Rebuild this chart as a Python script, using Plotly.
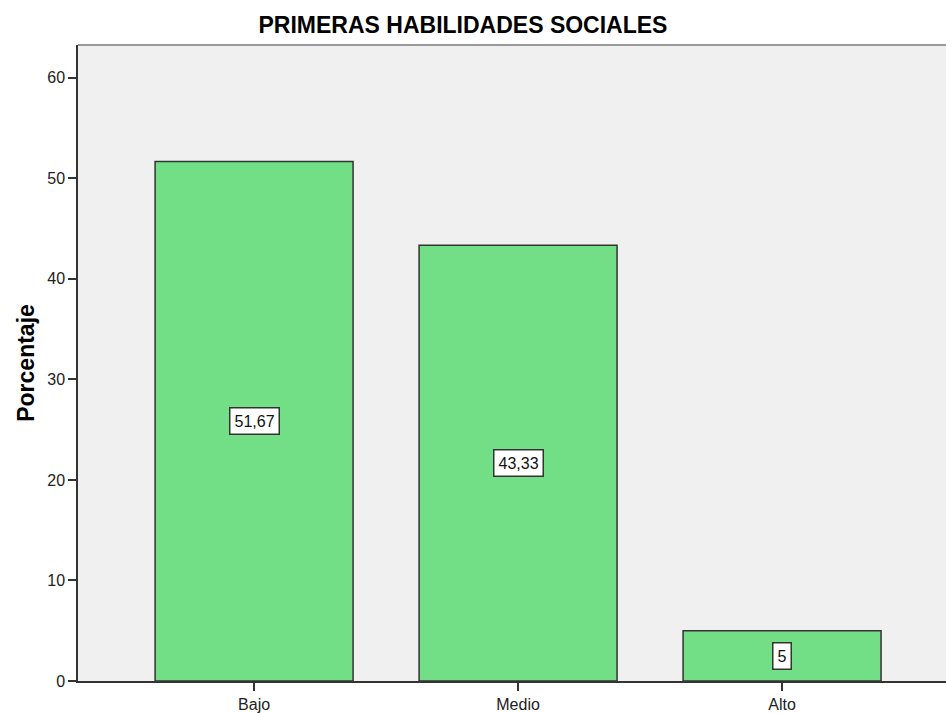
import plotly.graph_objects as go

categories = ["Bajo", "Medio", "Alto"]
values = [51.67, 43.33, 5]
labels = ["51,67", "43,33", "5"]
y_ticks = [0, 10, 20, 30, 40, 50, 60]

FONT = "Liberation Sans, Arial, sans-serif"

fig = go.Figure()
fig.add_trace(go.Bar(
    x=categories, y=values, width=0.75,
    marker=dict(color="rgb(114,222,134)", line=dict(color="#333333", width=1.5)),
    hoverinfo="skip",
))

for c, v, t in zip(categories, values, labels):
    fig.add_annotation(
        x=c, y=v / 2, text=t, showarrow=False,
        font=dict(family=FONT, size=16, color="#111"),
        bgcolor="white", bordercolor="#333333", borderwidth=1.5, borderpad=4,
    )

fig.add_shape(type="line", xref="paper", yref="paper", x0=0, x1=1, y0=1, y1=1,
              line=dict(color="#999999", width=2))

fig.update_layout(
    width=946, height=713,
    margin=dict(l=78, r=0, t=45, b=28),
    paper_bgcolor="white", plot_bgcolor="#F0F0F0",
    showlegend=False,
    title=dict(text="<b>PRIMERAS HABILIDADES SOCIALES</b>", x=463 / 946, xanchor="center",
               y=1 - 25 / 713, yanchor="middle",
               font=dict(family=FONT, size=23, color="black")),
    font=dict(family=FONT, size=16, color="#222"),
)
fig.update_xaxes(
    range=[-0.667, 2.621], showgrid=False, showline=True, linecolor="#333", linewidth=1.5,
    ticks="outside", ticklen=8, tickcolor="#333", tickwidth=1.5,
    tickfont=dict(size=16, color="#222"), fixedrange=True,
)
fig.update_yaxes(
    range=[0, 63.26], tickvals=y_ticks, showgrid=False, zeroline=False,
    showline=True, linecolor="#333", linewidth=1.5,
    ticks="outside", ticklen=8, tickcolor="#333", tickwidth=1.5,
    tickfont=dict(size=16, color="#222"),
    title=dict(text="<b>Porcentaje</b>", font=dict(size=23, color="black"), standoff=6),
    fixedrange=True,
)

fig.write_html("out.html", config={"displayModeBar": False},
               post_script="document.body.style.margin='0';")
